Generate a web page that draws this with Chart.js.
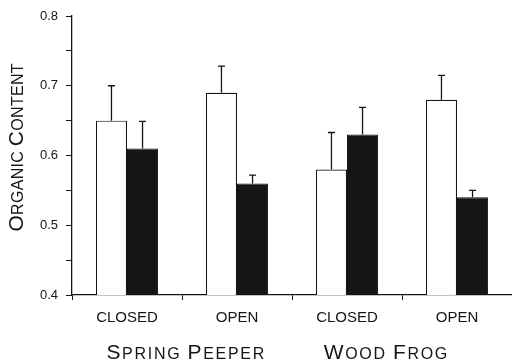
<!DOCTYPE html>
<html>
<head>
<meta charset="utf-8">
<script src="https://cdn.jsdelivr.net/npm/chart.js@4"></script>
<style>
  html, body { margin: 0; padding: 0; background: #fff; }
  #wrap { width: 512px; height: 360px; }
</style>
</head>
<body>
<div id="wrap"><canvas id="chart" width="512" height="360"></canvas></div>
<script>
// data
const categories = ['CLOSED', 'OPEN', 'CLOSED', 'OPEN'];
const groups = ['SPRING PEEPER', 'WOOD FROG'];
const whiteValues = [0.65, 0.69, 0.58, 0.68];
const whiteErrors = [0.05, 0.038, 0.053, 0.035];
const blackValues = [0.61, 0.56, 0.63, 0.54];
const blackErrors = [0.039, 0.012, 0.039, 0.01];
const yMin = 0.4, yMax = 0.8;
const yTitle = 'ORGANIC CONTENT';

const ink = '#151515';
const font = "'Liberation Sans', Arial, sans-serif";

// draw text in small caps: first letter of each word large
function smallCapsWidth(ctx, text, big, small, spacing) {
    let w = 0;
    for (let i = 0; i < text.length; i++) {
        const c = text[i];
        const isBig = i === 0 || text[i - 1] === ' ';
        ctx.font = (isBig ? big : small) + 'px ' + font;
        w += ctx.measureText(c).width + (i < text.length - 1 ? spacing : 0);
    }
    return w;
}
function drawSmallCaps(ctx, text, cx, baseY, big, small, spacing) {
    const total = smallCapsWidth(ctx, text, big, small, spacing);
    let x = cx - total / 2;
    ctx.textAlign = 'left';
    ctx.textBaseline = 'alphabetic';
    for (let i = 0; i < text.length; i++) {
        const c = text[i];
        const isBig = i === 0 || text[i - 1] === ' ';
        ctx.font = (isBig ? big : small) + 'px ' + font;
        ctx.fillText(c, x, baseY);
        x += ctx.measureText(c).width + spacing;
    }
}

// error bars (upper only) + titles
const extrasPlugin = {
    id: 'extras',
    afterDatasetsDraw(chart) {
        const ctx = chart.ctx;
        const y = chart.scales.y;
        const errs = [whiteErrors, blackErrors];
        const vals = [whiteValues, blackValues];
        ctx.save();
        ctx.strokeStyle = ink;
        ctx.lineWidth = 1.3;
        chart.data.datasets.forEach((ds, d) => {
            const meta = chart.getDatasetMeta(d);
            meta.data.forEach((bar, i) => {
                const top = y.getPixelForValue(vals[d][i] + errs[d][i]);
                ctx.beginPath();
                ctx.moveTo(bar.x, bar.y);
                ctx.lineTo(bar.x, top);
                ctx.moveTo(bar.x - 3.5, top);
                ctx.lineTo(bar.x + 3.5, top);
                ctx.stroke();
            });
        });
        ctx.restore();
    },
    afterDraw(chart) {
        const ctx = chart.ctx;
        const area = chart.chartArea;
        const x = chart.scales.x;
        ctx.save();
        ctx.fillStyle = ink;
        // y title, rotated
        ctx.translate(23, (area.top + area.bottom) / 2 - 8);
        ctx.rotate(-Math.PI / 2);
        drawSmallCaps(ctx, yTitle, 0, 0, 21, 16, 0.3);
        ctx.restore();
        // group labels
        ctx.save();
        ctx.fillStyle = ink;
        drawSmallCaps(ctx, groups[0], x.getPixelForValue(0.53), 359, 21, 16, 1.7);
        drawSmallCaps(ctx, groups[1], x.getPixelForValue(2.35), 359, 21, 16, 1.7);
        ctx.restore();
    }
};

new Chart(document.getElementById('chart'), {
    type: 'bar',
    data: {
        labels: categories,
        datasets: [{
            data: whiteValues,
            backgroundColor: '#ffffff',
            borderColor: ink,
            borderWidth: 1.2
        }, {
            data: blackValues,
            backgroundColor: ink,
            borderColor: ink,
            borderWidth: 1
        }]
    },
    options: {
        responsive: false,
        animation: false,
        categoryPercentage: 0.565,
        barPercentage: 1.0,
        layout: { padding: { top: 16, left: 0, right: 0, bottom: 0 } },
        plugins: {
            legend: { display: false },
            tooltip: { enabled: false }
        },
        scales: {
            x: {
                grid: { offset: true, drawOnChartArea: false, tickLength: 5, color: ink },
                border: { display: true, color: ink, width: 1.3 },
                ticks: { color: ink, padding: 9, font: { family: font, size: 15 } },
                afterFit(scale) { scale.height = 65; }
            },
            y: {
                min: yMin,
                max: yMax,
                grid: { drawOnChartArea: false, tickLength: 6, color: ink },
                border: { display: true, color: ink, width: 1.3 },
                ticks: {
                    stepSize: 0.05,
                    padding: 8,
                    color: ink,
                    font: { family: font, size: 13 },
                    callback: (v, i) => (i % 2 === 0 ? v.toFixed(1) : '')
                },
                afterFit(scale) { scale.width = 72; }
            }
        }
    },
    plugins: [extrasPlugin]
});
</script>
</body>
</html>
